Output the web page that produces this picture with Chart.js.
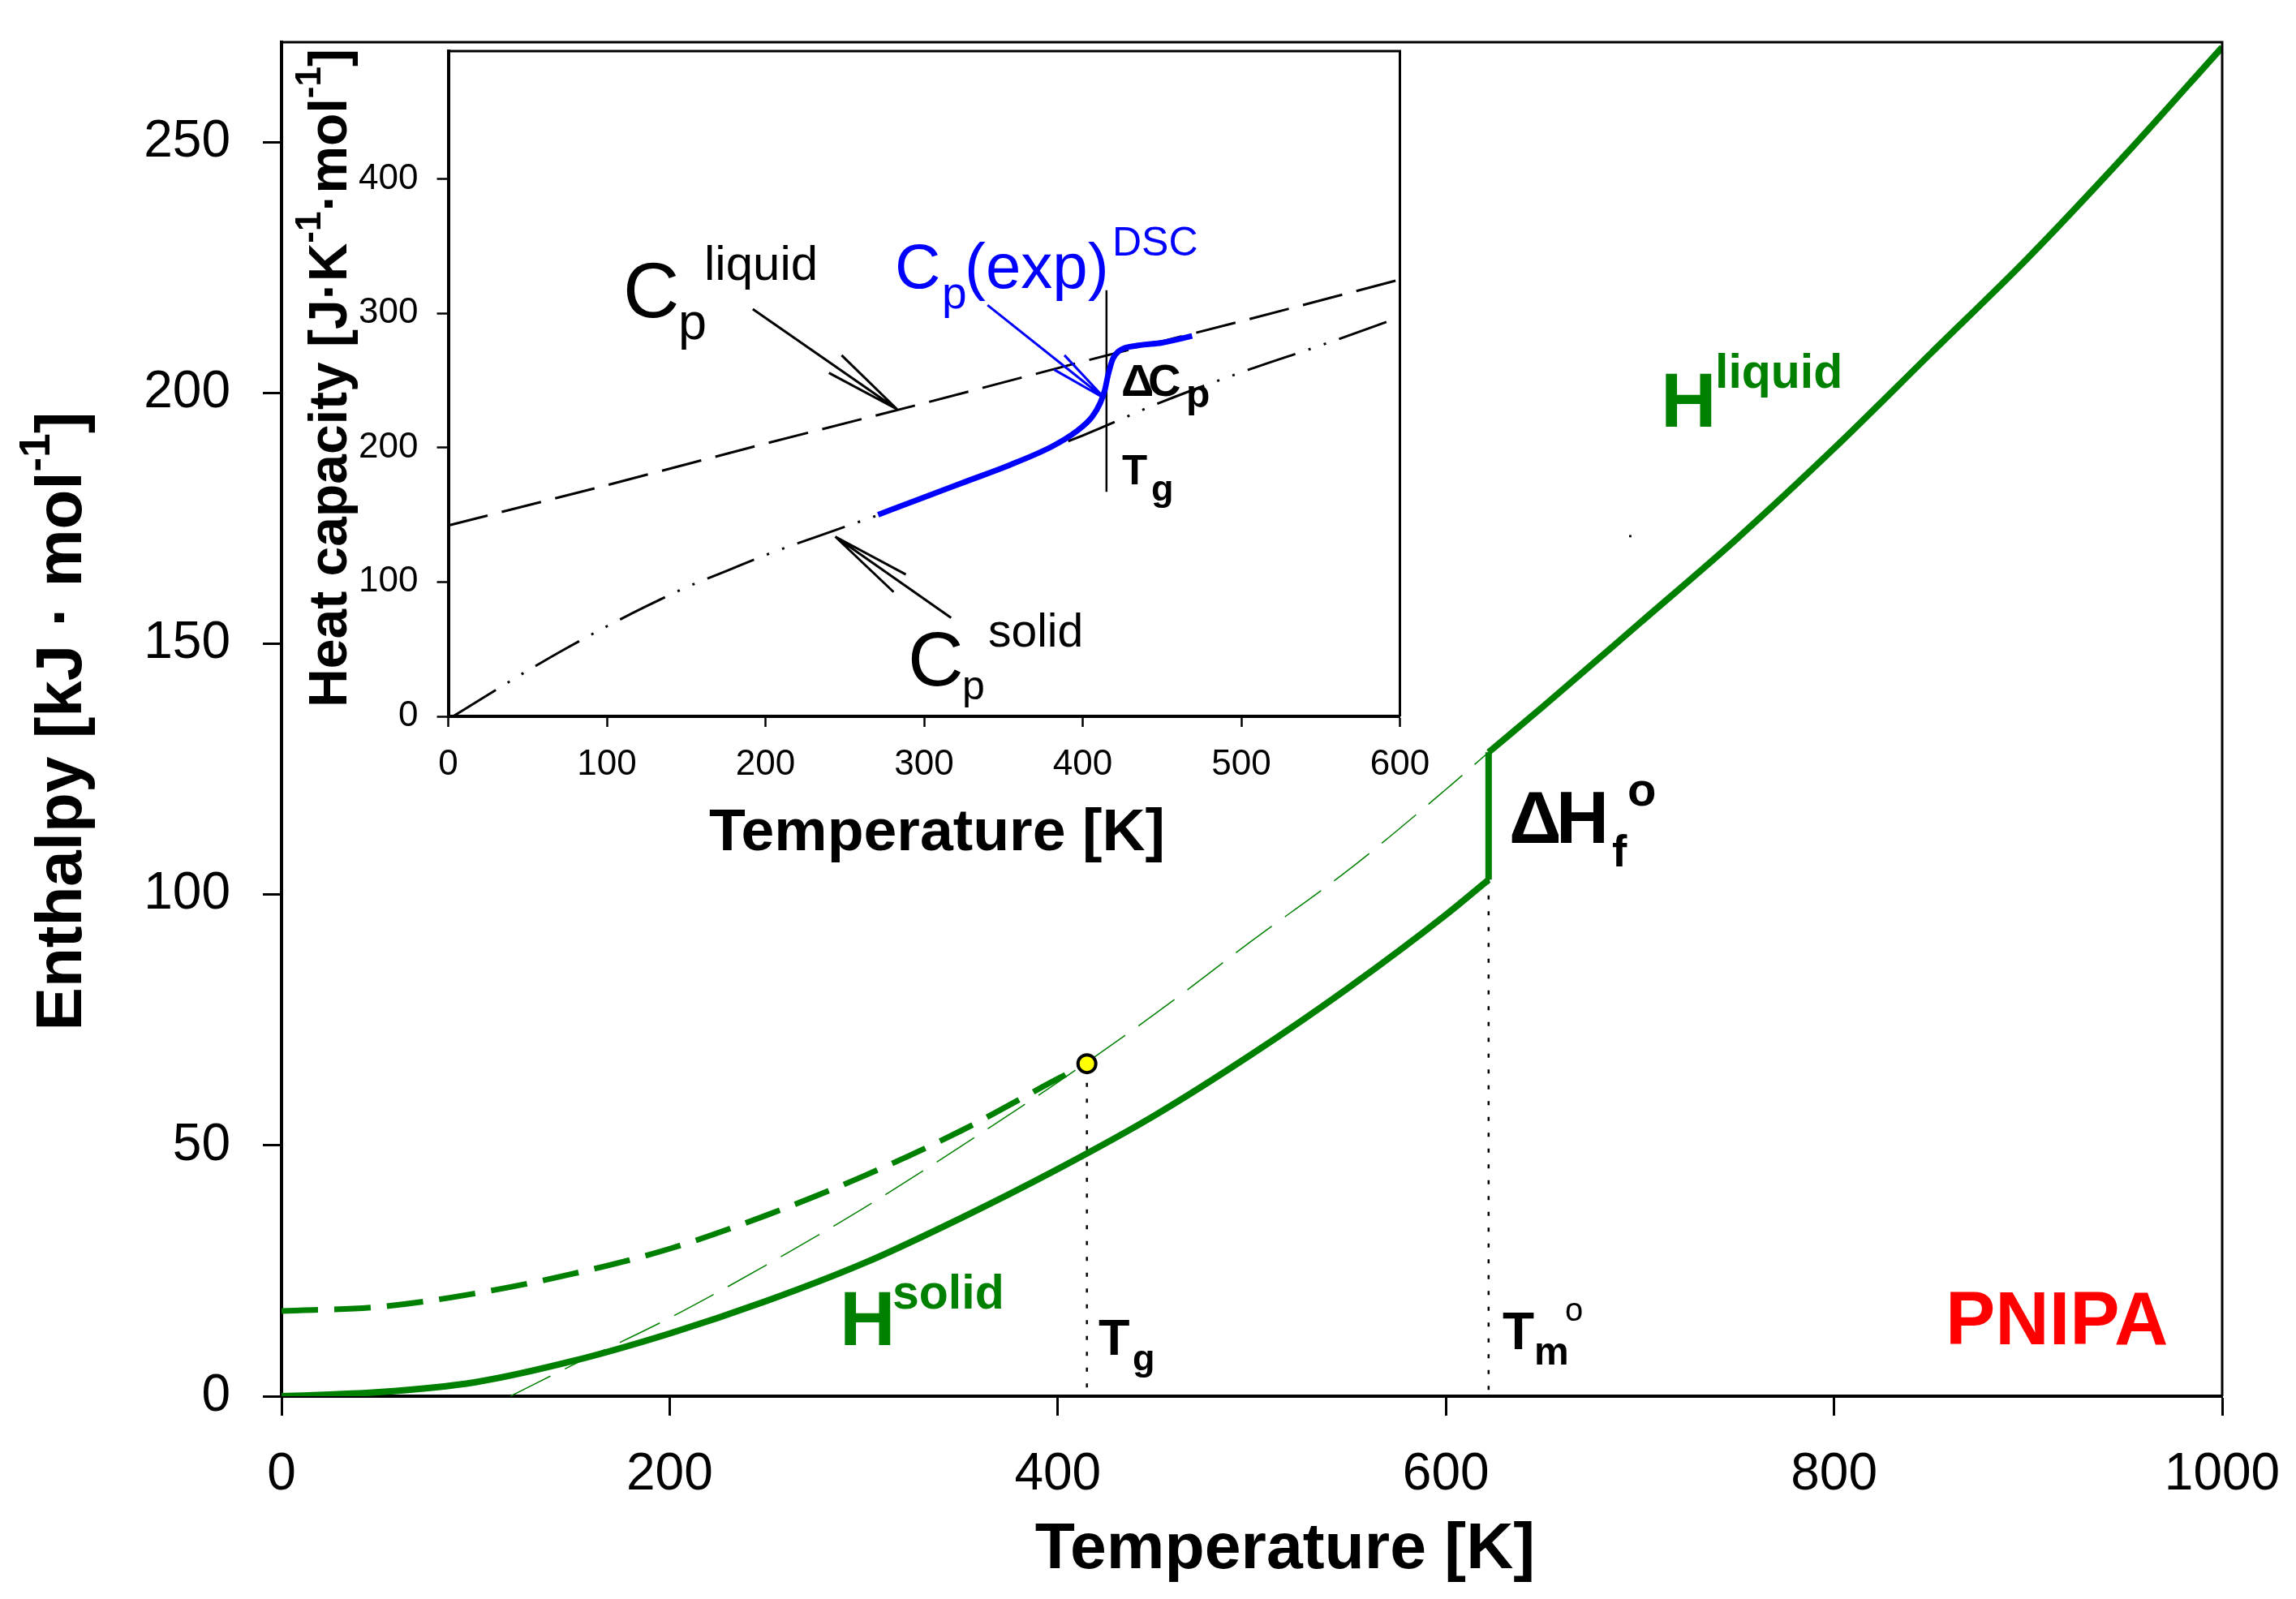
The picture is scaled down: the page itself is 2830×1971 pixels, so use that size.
<!DOCTYPE html>
<html>
<head>
<meta charset="utf-8">
<title>PNIPA enthalpy</title>
<script src="https://cdn.jsdelivr.net/npm/chart.js@4.4.1/dist/chart.umd.min.js"></script>
<style>
  html, body { margin: 0; padding: 0; background: #fff; }
  #wrap { position: relative; width: 2830px; height: 1971px; }
  #wrap canvas { position: absolute; left: 0; top: 0; }
</style>
</head>
<body>
<div id="wrap">
  <canvas id="mainChart" width="2830" height="1971"></canvas>
  <canvas id="insetChart" width="2830" height="1971"></canvas>
</div>
<script>
// ---- main plot: enthalpy [kJ/mol] vs temperature [K]
const tSolid = [0, 50, 100, 150, 200, 250, 300, 350, 400, 450, 500, 550, 600, 622];
const hSolid = [0, 0.8, 2.8, 7.0, 12.5, 19.0, 26.5, 35.5, 45.3, 56.0, 68.2, 81.5, 96.0, 103.0];
const tMelt = [622, 622];
const hMelt = [103.0, 128.4];
const tLiquid = [622, 650, 700, 750, 800, 850, 900, 950, 1000];
const hLiquid = [128.4, 137.5, 154.2, 171.0, 189.0, 208.0, 227.0, 247.5, 269.0];
const tLiqExtra = [118, 150, 200, 250, 300, 350, 400, 450, 500, 550, 600, 622];
const hLiqExtra = [0, 6.2, 15.6, 26.2, 37.5, 49.8, 62.6, 76.2, 90.8, 105.0, 121.0, 128.4];
const tGlass = [0, 50, 100, 150, 200, 250, 300, 350, 400, 415];
const hGlass = [17.0, 17.8, 20.5, 24.4, 29.4, 36.1, 43.9, 52.9, 63.3, 66.3];
const tgPoint = [415, 66.3];
const tgDrop = [62.5, 0];
const tmDrop = [103.0, 0];
const strayDot = [695, 171.5];
const xTicksMain = [0, 200, 400, 600, 800, 1000];
const yTicksMain = [0, 50, 100, 150, 200, 250];

// ---- inset: heat capacity [J/K/mol] vs temperature [K]
const tCpLiq = [0, 100, 200, 300, 400, 500, 600];
const cpLiq = [142, 172, 203, 233, 264, 294, 325];
const tCpSol = [3, 25, 50, 75, 100, 125, 150, 175, 200, 250, 300, 350, 400, 450, 500, 550, 600];
const cpSol = [0, 16, 34, 51, 67, 82, 96, 108, 120, 141, 162, 186, 209, 234, 256, 276, 297];
const tCpExp = [271, 300, 327, 354, 381, 396, 406, 411, 414, 416, 419, 423, 435, 450, 469];
const cpExp = [150, 163, 175, 187, 201, 212, 223, 233, 243, 254, 266, 272, 276, 278, 283];
const tgInset = 415;
const tgInsetRange = [167, 317];
const xTicksInset = [0, 100, 200, 300, 400, 500, 600];
const yTicksInset = [0, 100, 200, 300, 400];

const FONT = "'Liberation Sans', Arial, Helvetica, sans-serif";
const GREEN = '#008000';
const BLUE = '#0000ff';

function pts(xs, ys) { return xs.map((x, i) => ({ x: x, y: ys[i] })); }
function font(size, bold) { return (bold ? 'bold ' : '') + size + 'px ' + FONT; }

function drawPieces(ctx, pieces) {
  pieces.forEach(p => {
    ctx.save();
    ctx.font = font(p.size, p.bold);
    ctx.fillStyle = p.color || '#000';
    ctx.textAlign = 'left';
    ctx.textBaseline = 'alphabetic';
    ctx.fillText(p.text, p.x, p.y);
    ctx.restore();
  });
}

// centred title made of runs (for superscripts), optionally rotated / stretched
function drawTitle(ctx, cx, cy, parts, rotate, sx) {
  ctx.save();
  ctx.translate(cx, cy);
  if (rotate) ctx.rotate(rotate);
  ctx.scale(sx || 1, 1);
  ctx.fillStyle = '#000';
  ctx.textBaseline = 'alphabetic';
  let total = 0;
  parts.forEach(p => { ctx.font = font(p.size, true); total += ctx.measureText(p.text).width; });
  let x = -total / 2;
  parts.forEach(p => {
    ctx.font = font(p.size, true);
    ctx.fillText(p.text, x, p.dy || 0);
    x += ctx.measureText(p.text).width;
  });
  ctx.restore();
}

function frame(chart, w) {
  const a = chart.chartArea, ctx = chart.ctx;
  ctx.save();
  ctx.strokeStyle = '#000';
  ctx.lineWidth = w;
  ctx.beginPath();
  ctx.moveTo(a.left, a.top);
  ctx.lineTo(a.right, a.top);
  ctx.lineTo(a.right, a.bottom);
  ctx.stroke();
  ctx.restore();
}

const mainLabels = [
  { text: 'H', x: 2047, y: 526, size: 95, bold: true, color: GREEN },
  { text: 'liquid', x: 2114, y: 478, size: 59, bold: true, color: GREEN },
  { text: 'H', x: 1035, y: 1658, size: 95, bold: true, color: GREEN },
  { text: 'solid', x: 1100, y: 1613, size: 59, bold: true, color: GREEN },
  { text: '\u0394', x: 1860, y: 1039, size: 90, bold: true },
  { text: 'H', x: 1918, y: 1039, size: 90, bold: true },
  { text: 'f', x: 1987, y: 1068, size: 55, bold: true },
  { text: 'o', x: 2006, y: 993, size: 58, bold: true },
  { text: 'T', x: 1354, y: 1670, size: 63, bold: true },
  { text: 'g', x: 1396, y: 1689, size: 45, bold: true },
  { text: 'T', x: 1852, y: 1663, size: 64, bold: true },
  { text: 'm', x: 1891, y: 1682, size: 48, bold: true },
  { text: 'o', x: 1929, y: 1628, size: 40 },
  { text: 'PNIPA', x: 2398, y: 1657, size: 92, bold: true, color: '#ff0000' }
];

const insetLabels = [
  { text: 'C', x: 768, y: 391, size: 96 },
  { text: 'p', x: 836, y: 418, size: 63 },
  { text: 'liquid', x: 868, y: 345, size: 60 },
  { text: 'C', x: 1103, y: 355, size: 78, color: BLUE },
  { text: 'p', x: 1161, y: 380, size: 55, color: BLUE },
  { text: '(exp)', x: 1189, y: 355, size: 78, color: BLUE },
  { text: 'DSC', x: 1371, y: 315, size: 50, color: BLUE },
  { text: '\u0394', x: 1382, y: 488, size: 56, bold: true },
  { text: 'C', x: 1415, y: 488, size: 56, bold: true },
  { text: 'p', x: 1462, y: 502, size: 48, bold: true },
  { text: 'T', x: 1383, y: 597, size: 51, bold: true },
  { text: 'g', x: 1419, y: 617, size: 45, bold: true },
  { text: 'C', x: 1119, y: 845, size: 95 },
  { text: 'p', x: 1186, y: 862, size: 50 },
  { text: 'solid', x: 1218, y: 797, size: 57 }
];

// arrows in inset data units: tail, tip, two barbs
const insetArrows = [
  { tail: [192, 303], tip: [283, 228.5], barbs: [[248, 268.7], [240, 255.6]], color: '#000' },
  { tail: [317, 73.3], tip: [244, 133.7], barbs: [[288.5, 105.6], [280.8, 92.5]], color: '#000' },
  { tail: [340, 306], tip: [414, 236.5], barbs: [[388.5, 268.7], [382, 258]], color: BLUE }
];

const mainDecor = {
  id: 'mainDecor',
  afterDraw(chart) {
    const ctx = chart.ctx;
    frame(chart, 3);
    drawPieces(ctx, mainLabels);
    drawTitle(ctx, 1584, 1933, [{ text: 'Temperature [K]', size: 79 }], 0, 1.02);
    drawTitle(ctx, 100, 889, [
      { text: 'Enthalpy [kJ \u00b7 mol', size: 80 },
      { text: '-1', size: 53, dy: -39 },
      { text: ']', size: 80 }
    ], -Math.PI / 2, 1);
  }
};

const insetDecor = {
  id: 'insetDecor',
  beforeDraw(chart) {
    const a = chart.chartArea, ctx = chart.ctx;
    ctx.save();
    ctx.fillStyle = '#fff';
    ctx.fillRect(a.left, a.top, a.right - a.left, a.bottom - a.top);
    ctx.restore();
  },
  afterDatasetsDraw(chart) {
    const ctx = chart.ctx, xs = chart.scales.x, ys = chart.scales.y;
    const px = p => [xs.getPixelForValue(p[0]), ys.getPixelForValue(p[1])];
    ctx.save();
    ctx.lineWidth = 3;
    insetArrows.forEach(ar => {
      const tip = px(ar.tip), tail = px(ar.tail);
      ctx.strokeStyle = ar.color;
      ctx.beginPath();
      ctx.moveTo(tail[0], tail[1]);
      ctx.lineTo(tip[0], tip[1]);
      ar.barbs.forEach(b => {
        const q = px(b);
        ctx.moveTo(q[0], q[1]);
        ctx.lineTo(tip[0], tip[1]);
      });
      ctx.stroke();
    });
    ctx.restore();
  },
  afterDraw(chart) {
    const ctx = chart.ctx;
    frame(chart, 3);
    drawPieces(ctx, insetLabels);
    drawTitle(ctx, 1155, 1048, [{ text: 'Temperature [K]', size: 72 }], 0, 1.02);
    drawTitle(ctx, 427, 466, [
      { text: 'Heat capacity [J\u00b7K', size: 66 },
      { text: '-1', size: 44, dy: -32 },
      { text: '\u00b7mol', size: 66 },
      { text: '-1', size: 44, dy: -32 },
      { text: ']', size: 66 }
    ], -Math.PI / 2, 1);
  }
};

// fixed axis box, and no extra label padding pushed into the layout
function fixBox(size) {
  return s => {
    if (s.isHorizontal()) s.height = size; else s.width = size;
    s.paddingTop = 0;
    s.paddingBottom = 0;
    s.paddingLeft = 0;
    s.paddingRight = 0;
  };
}

function axis(opts) {
  return {
    type: 'linear',
    min: opts.min,
    max: opts.max,
    afterFit: fixBox(opts.box),
    afterBuildTicks: s => { s.ticks = opts.ticks.map(v => ({ value: v })); },
    grid: { drawOnChartArea: false, tickLength: opts.tickLength, tickWidth: opts.tickWidth, tickColor: '#000' },
    border: { width: 4, color: '#000' },
    ticks: {
      font: { family: FONT, size: opts.fontSize },
      color: '#000',
      padding: opts.padding,
      maxRotation: 0,
      callback: v => String(v)
    }
  };
}

const baseOptions = {
  responsive: false,
  animation: false,
  devicePixelRatio: 1,
  events: [],
  plugins: { legend: { display: false }, tooltip: { enabled: false } },
  elements: { point: { radius: 0 }, line: { tension: 0, borderCapStyle: 'butt' } }
};

new Chart(document.getElementById('mainChart'), {
  type: 'line',
  data: {
    datasets: [
      { data: pts([tgPoint[0]], [tgPoint[1]]), showLine: false, pointRadius: 11, pointBackgroundColor: '#ffff00', pointBorderColor: '#000', pointBorderWidth: 4 },
      { data: pts([strayDot[0]], [strayDot[1]]), showLine: false, pointRadius: 2, pointStyle: 'rect', pointBackgroundColor: '#000', pointBorderWidth: 0 },
      { data: pts(tSolid, hSolid), borderColor: GREEN, borderWidth: 8, cubicInterpolationMode: 'monotone' },
      { data: pts(tMelt, hMelt), borderColor: GREEN, borderWidth: 8 },
      { data: pts(tLiquid, hLiquid), borderColor: GREEN, borderWidth: 8, cubicInterpolationMode: 'monotone' },
      { data: pts(tGlass, hGlass), borderColor: GREEN, borderWidth: 7, borderDash: [45, 20], cubicInterpolationMode: 'monotone' },
      { data: pts(tLiqExtra, hLiqExtra), borderColor: GREEN, borderWidth: 1.5, borderDash: [55, 20], cubicInterpolationMode: 'monotone' },
      { data: pts([tgPoint[0], tgPoint[0]], tgDrop), borderColor: '#000', borderWidth: 2.5, borderDash: [5, 14.5] },
      { data: pts([tMelt[0], tMelt[0]], tmDrop), borderColor: '#000', borderWidth: 2.5, borderDash: [5, 14.5] }
    ]
  },
  options: Object.assign({}, baseOptions, {
    layout: { autoPadding: false, padding: { left: 0, top: 52, right: 91, bottom: 0 } },
    scales: {
      x: axis({ min: 0, max: 1000, ticks: xTicksMain, box: 250, tickLength: 24, tickWidth: 3, fontSize: 64, padding: 35 }),
      y: axis({ min: 0, max: 270, ticks: yTicksMain, box: 347, tickLength: 23, tickWidth: 3, fontSize: 64, padding: 40 })
    }
  }),
  plugins: [mainDecor]
});

new Chart(document.getElementById('insetChart'), {
  type: 'line',
  data: {
    datasets: [
      { data: pts(tCpExp, cpExp), borderColor: BLUE, borderWidth: 7, cubicInterpolationMode: 'monotone' },
      { data: pts([tgInset, tgInset], tgInsetRange), borderColor: '#000', borderWidth: 2.5 },
      { data: pts(tCpLiq, cpLiq), borderColor: '#000', borderWidth: 3, borderDash: [50, 18] },
      { data: pts(tCpSol, cpSol), borderColor: '#000', borderWidth: 3, borderDash: [62, 17, 3, 17, 3, 17], cubicInterpolationMode: 'monotone' }
    ]
  },
  options: Object.assign({}, baseOptions, {
    layout: { autoPadding: false, padding: { left: 352.5, top: 63, right: 1104.5, bottom: 938 } },
    scales: {
      x: axis({ min: 0, max: 600, ticks: xTicksInset, box: 150, tickLength: 13, tickWidth: 2.5, fontSize: 44, padding: 20 }),
      y: axis({ min: 0, max: 495, ticks: yTicksInset, box: 200, tickLength: 14, tickWidth: 2.5, fontSize: 44, padding: 23 })
    }
  }),
  plugins: [insetDecor]
});
</script>
</body>
</html>
